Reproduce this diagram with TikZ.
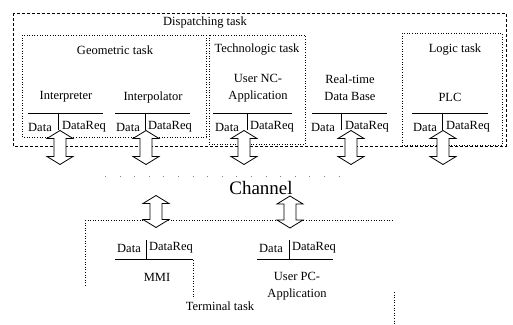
\documentclass[tikz,border=0pt]{standalone}
\usepackage{fontspec}
\setmainfont{Liberation Serif}
\begin{document}
\begin{tikzpicture}[x=1pt,y=-1pt,
  lbl/.style={font=\fontsize{12.5}{17}\selectfont, inner sep=0pt, align=center},
  chan/.style={font=\fontsize{19}{21}\selectfont, inner sep=0pt},
  dbox/.style={draw, dotted, line width=0.6pt},
  obox/.style={draw, dashed, line width=0.6pt, dash pattern=on 3pt off 2pt},
  bar/.style={line width=0.7pt},
  dbl/.pic={\draw[fill=white, line width=0.8pt, line join=miter]
     (0,-17) -- (13,-9) -- (6,-9) -- (6,9) -- (13,9) -- (0,17) -- (-13,9)
     -- (-6,9) -- (-6,-9) -- (-13,-9) -- cycle;},
  dbls/.pic={\draw[fill=white, line width=0.8pt, line join=miter]
     (0,-16) -- (13,-8) -- (6,-8) -- (6,8) -- (13,8) -- (0,16) -- (-13,8)
     -- (-6,8) -- (-6,-8) -- (-13,-8) -- cycle;}
]
\useasboundingbox (0,0) rectangle (513,324);

% --- boxes ---
\draw[obox] (13,13) rectangle (506,146);
\node[lbl] (disp) at (205,23) {Dispatching task};

\draw[dbox] (22,35) rectangle (206,137);
\node[lbl] (geo) at (115,50) {Geometric task};

\draw[dbox] (209,35) rectangle (305,144);
\node[lbl] (tech) at (257,50) {Technologic task};

\draw[dbox] (402,33) rectangle (502,145);
\node[lbl] (logic) at (455,50) {Logic task};

% --- dispatching components ---
\node[lbl] (interp) at (66,97) {Interpreter};
\draw[bar] (28,113) -- (103,113);
\draw[bar] (58,113) -- (58,130);
\node[lbl] (interpD) at (40,127) {Data};
\node[lbl] (interpR) at (84,127) {DataReq};

\node[lbl] (ipol) at (153,97) {Interpolator};
\draw[bar] (115,113) -- (190,113);
\draw[bar] (145,113) -- (145,130);
\node[lbl] (ipolD) at (128,127) {Data};
\node[lbl] (ipolR) at (170,127) {DataReq};

\node[lbl] (nc) at (258,88) {User NC-\\Application};
\draw[bar] (213,113) -- (292,113);
\draw[bar] (247,113) -- (247,130);
\node[lbl] (ncD) at (227,127) {Data};
\node[lbl] (ncR) at (272,127) {DataReq};

\node[lbl] (rtdb) at (350,88) {Real-time\\Data Base};
\draw[bar] (312,113) -- (387,113);
\draw[bar] (341,113) -- (341,130);
\node[lbl] (rtdbD) at (323,127) {Data};
\node[lbl] (rtdbR) at (367,127) {DataReq};

\node[lbl] (plc) at (450,97) {PLC};
\draw[bar] (412,113) -- (488,113);
\draw[bar] (442,113) -- (442,130);
\node[lbl] (plcD) at (425,127) {Data};
\node[lbl] (plcR) at (468,127) {DataReq};

% --- channel ---
\draw[line width=0.5pt, dash pattern=on 0.6pt off 14pt, gray] (105,176) -- (350,176);
\node[chan] (chan) at (261,188) {Channel};

% --- terminal task ---
\draw[dbox] (85,220) -- (392,220);
\draw[dbox] (85,220) -- (85,287);
\draw[dbox] (394,292) -- (394,324);
\draw[dbox] (193,260) -- (193,297);
\node[lbl] (term) at (220,306) {Terminal task};

\node[lbl] (mmiD) at (129,248) {Data};
\node[lbl] (mmiR) at (171,248) {DataReq};
\draw[bar] (115,259) -- (193,259);
\draw[bar] (146,240) -- (146,259);
\node[lbl] (mmi) at (157,277) {MMI};

\node[lbl] (pcD) at (271,248) {Data};
\node[lbl] (pcR) at (314,248) {DataReq};
\draw[bar] (257,259) -- (333,259);
\draw[bar] (289,240) -- (289,259);
\node[lbl] (pc) at (297,286) {User PC-\\Application};

% --- double arrows (channel connections) ---
\pic at (60,147.5) {dbl};
\pic at (146,147.5) {dbl};
\pic at (244,147.5) {dbl};
\pic at (351,147.5) {dbl};
\pic at (443,147.5) {dbl};
\pic at (156,211.5) {dbls};
\pic at (290,212) {dbls};
\end{tikzpicture}
\end{document}
